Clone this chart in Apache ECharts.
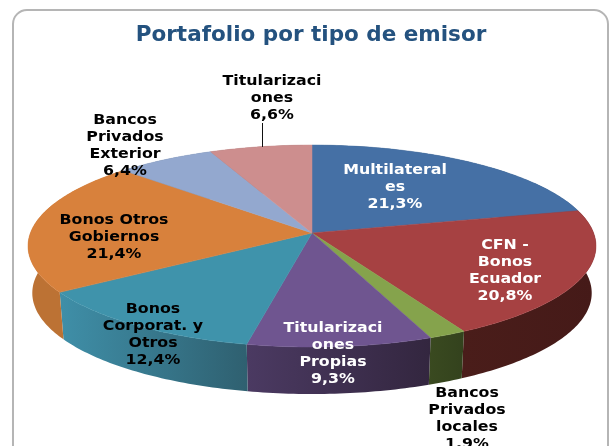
<!DOCTYPE html>
<html>
<head>
<meta charset="utf-8">
<style>
  html, body { margin: 0; padding: 0; background: #fff; }
  #chart { width: 610px; height: 446px; }
</style>
<script src="https://cdn.jsdelivr.net/npm/echarts@6/dist/echarts.min.js"></script>
</head>
<body>
<div id="chart"></div>
<script>
var categories = ['Multilateral\nes', 'CFN -\nBonos\nEcuador', 'Bancos\nPrivados\nlocales', 'Titularizaci\nones\nPropias',
  'Bonos\nCorporat. y\nOtros', 'Bonos Otros\nGobiernos', 'Bancos\nPrivados\nExterior', 'Titularizaci\nones'];
var values = [21.3, 20.8, 1.9, 9.3, 12.4, 21.4, 6.4, 6.6];
var topColors = ['#4570a5', '#a64142', '#85a34c', '#6f5590', '#3f93ab', '#d8813c', '#93a8cf', '#cd8e8e'];
var wallLeft = ['#2f4b70', '#4a1d1a', '#3a4a20', '#4b3a62', '#3f8fa8', '#bc7234', '#64748f', '#8c6161'];
var wallRight = ['#2f4b70', '#451a18', '#33421d', '#33263f', '#2f6070', '#bc7234', '#64748f', '#8c6161'];
var labelColors = ['#fff', '#fff', '#000', '#fff', '#000', '#000', '#000', '#000'];
// center x / first line y of each label
var labelPos = [[395, 170], [505, 245], [467, 393], [333, 328], [153, 309], [114, 220], [125, 120], [272, 81]];

var total = values.reduce(function (a, b) { return a + b; }, 0);
var cum = [0];
values.forEach(function (v, i) { cum.push(cum[i] + v); });

// perspective tilt of the disc
var CX = 312, CY = 233, K = 0.129, RX = 281.6, RY = 99.3, DEPTH = 47, SHRINK = 0.985;

function rim(theta, low) {
  var u = Math.sin(theta), v = Math.cos(theta), d = 1 + K * v;
  var x = RX * u / d, y = RY * v / d;
  if (low) return [CX + x * SHRINK, CY - y + DEPTH];
  return [CX + x, CY - y];
}

function arc(i, low) {
  var a0 = cum[i] / total * Math.PI * 2, a1 = cum[i + 1] / total * Math.PI * 2;
  var n = Math.max(4, Math.ceil((a1 - a0) * 60)), pts = [];
  for (var k = 0; k <= n; k++) pts.push(rim(a0 + (a1 - a0) * k / n, low));
  return pts;
}

function wallItem(params) {
  var i = params.dataIndex;
  var up = arc(i, false), down = arc(i, true).reverse();
  return {
    type: 'polygon',
    shape: { points: up.concat(down) },
    style: {
      fill: new echarts.graphic.LinearGradient(0, 0, 1, 0, [
        { offset: 0, color: wallLeft[i] },
        { offset: 1, color: wallRight[i] }
      ])
    }
  };
}

function topItem(params) {
  var i = params.dataIndex;
  var pts = [[CX, CY]].concat(arc(i, false));
  return {
    type: 'polygon',
    shape: { points: pts },
    style: { fill: topColors[i], stroke: topColors[i], lineWidth: 0.5 }
  };
}

function labelItem(params, api) {
  var i = params.dataIndex;
  var txt = categories[i] + '\n' + api.value(0).toFixed(1).replace('.', ',') + '%';
  return {
    type: 'text',
    x: labelPos[i][0],
    y: labelPos[i][1] - 8,
    scaleX: 1.13,
    style: {
      x: 0,
      y: 0,
      text: txt,
      textAlign: 'center',
      textVerticalAlign: 'top',
      font: 'bold 14px "DejaVu Sans"',
      lineHeight: 17,
      fill: labelColors[i]
    }
  };
}

var chart = echarts.init(document.getElementById('chart'));
chart.setOption({
  animation: false,
  backgroundColor: '#fff',
  title: {
    text: 'Portafolio por tipo de emisor',
    left: 306,
    top: 19,
    textAlign: 'center',
    textStyle: { color: '#24527f', fontFamily: 'DejaVu Sans', fontWeight: 'bold', fontSize: 21.5 }
  },
  graphic: [
    {
      type: 'rect', z: 0,
      shape: { x: 13, y: 10, width: 595, height: 470, r: 14 },
      style: { fill: '#fff', stroke: '#b5b5b5', lineWidth: 2 }
    },
    {
      type: 'line', z: 20,
      shape: { x1: 262.5, y1: 123, x2: 262.5, y2: 147 },
      style: { stroke: '#111', lineWidth: 1 }
    }
  ],
  series: [
    { type: 'custom', coordinateSystem: 'none', z: 2, data: values, renderItem: wallItem, silent: true },
    { type: 'custom', coordinateSystem: 'none', z: 3, data: values, renderItem: topItem, silent: true },
    { type: 'custom', coordinateSystem: 'none', z: 4, data: values, renderItem: labelItem, silent: true }
  ]
});
</script>
</body>
</html>
